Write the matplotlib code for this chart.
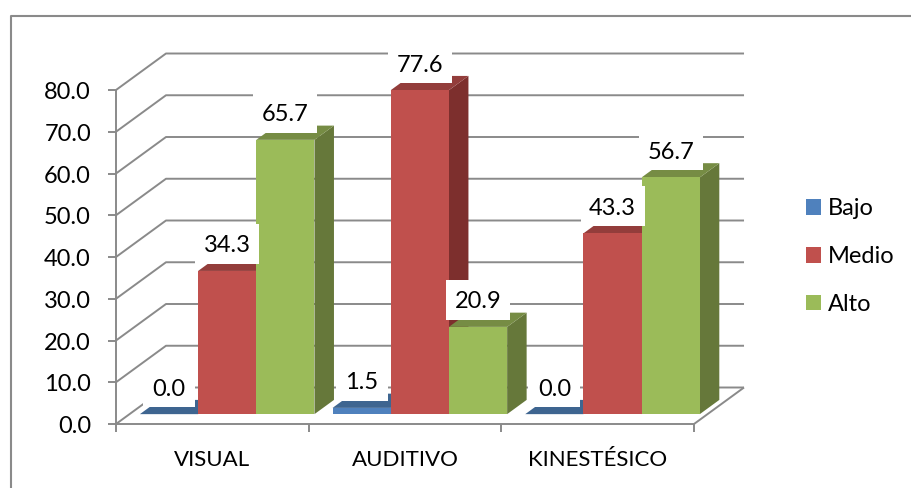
import matplotlib
matplotlib.use("Agg")
import matplotlib.pyplot as plt
from matplotlib.lines import Line2D
from matplotlib.patches import Patch, Rectangle

categories = ["VISUAL", "AUDITIVO", "KINESTÉSICO"]
series = ["Bajo", "Medio", "Alto"]
bajo = [0.0, 1.5, 0.0]
medio = [34.3, 77.6, 43.3]
alto = [65.7, 20.9, 56.7]
yticks = [0, 10, 20, 30, 40, 50, 60, 70, 80]

front_colors = ["#4F81BD", "#C0504D", "#9BBB59"]
top_colors = ["#3E6590", "#933D3B", "#768C44"]
side_colors = ["#345479", "#7D2F2D", "#66783A"]
gray = "#8A8A8A"

# pixels per unit on the chart axes
px_x = 192.67
px_y = 4.175
x0, y0 = 116, 424

# oblique depth of the chart box, in data units
depth_x = 50 / px_x
depth_y = 36.5 / px_y

# bars sit between these two depth fractions
d_front = 0.27
d_back = 0.66
bar_w = 0.302
gap = 0.054

plt.rcParams['font.family'] = ['Lato', 'DejaVu Sans']
fontsize = 17

fig = plt.figure(figsize=(9.11, 4.88), dpi=100)
ax = fig.add_axes([0, 0, 1, 1])
ax.set_xlim(-x0 / px_x, (911 - x0) / px_x)
ax.set_ylim((y0 - 488) / px_y, y0 / px_y)
ax.axis("off")


def proj(x, v, d):
    return x + d * depth_x, v + d * depth_y


def line(xs, ys, z=1):
    ax.plot(xs, ys, color=gray, lw=1.4, zorder=z, solid_capstyle="butt")


# back wall, side wall, floor
n = len(categories)
for t in yticks:
    bx, by = proj(0, t, 1)
    line([0, bx, bx + n], [t, by, by])
    line([-8 / px_x, 0], [t, t])
    ax.text(-25 / px_x, t - 0.6, "%.1f" % t, ha="right", va="center",
            fontsize=fontsize, color="black")
line([0, 0], [yticks[-1], -8 / px_y])
line([0, n], [0, 0])
fx, fy = proj(n, 0, 1)
line([n, fx], [0, fy])
for i in range(1, n + 1):
    line([i, i], [0, -8 / px_y])

# bars: side and top first, front on top
zb = 2
for j, values in enumerate([bajo, medio, alto]):
    for i, v in enumerate(values):
        left = i + gap + j * bar_w
        right = left + bar_w
        a = proj(left, 0, d_front)
        b = proj(right, 0, d_front)
        a2 = proj(left, v, d_front)
        b2 = proj(right, v, d_front)
        c = proj(right, 0, d_back)
        c2 = proj(right, v, d_back)
        e2 = proj(left, v, d_back)
        ax.fill([b[0], c[0], c2[0], b2[0]], [b[1], c[1], c2[1], b2[1]],
                color=side_colors[j], lw=0, zorder=zb)
        ax.fill([a2[0], b2[0], c2[0], e2[0]], [a2[1], b2[1], c2[1], e2[1]],
                color=top_colors[j], lw=0, zorder=zb)
        ax.fill([a[0], b[0], b2[0], a2[0]], [a[1], b[1], b2[1], a2[1]],
                color=front_colors[j], lw=0, zorder=zb + 0.5)

# value labels with white boxes
for j, values in enumerate([bajo, medio, alto]):
    for i, v in enumerate(values):
        cx, cy = proj(i + gap + (j + 0.5) * bar_w, v, d_front)
        cy = cy + 27 / px_y
        label = "%.1f" % v
        w = (16 + 12 * len(label)) / px_x
        h = 40 / px_y
        ax.add_patch(Rectangle((cx - w / 2, cy - h / 2), w, h, facecolor="white",
                               edgecolor="none", zorder=5))
        ax.text(cx, cy - 2 / px_y, label, ha="center", va="center", fontsize=fontsize,
                color="black", zorder=6)

# category labels
for i, name in enumerate(categories):
    ax.text(i + 0.5, -36 / px_y, name, ha="center", va="center",
            fontsize=16, color="black")

handles = [Patch(facecolor=c, edgecolor="none") for c in front_colors]
leg = ax.legend(handles, series, loc="center left", frameon=False,
                bbox_to_anchor=(799 / 911, 1 - 256.5 / 488), fontsize=17,
                handlelength=0.64, handleheight=0.64, handletextpad=0.3,
                labelspacing=1.13, borderpad=0.3, borderaxespad=0)

# chart frame, only top and left show in the crop
fig.add_artist(Line2D([11 / 911, 11 / 911, 1], [0, 1 - 16 / 488, 1 - 16 / 488],
                      color=gray, lw=1.5))

plt.savefig("out.png", dpi=100)
